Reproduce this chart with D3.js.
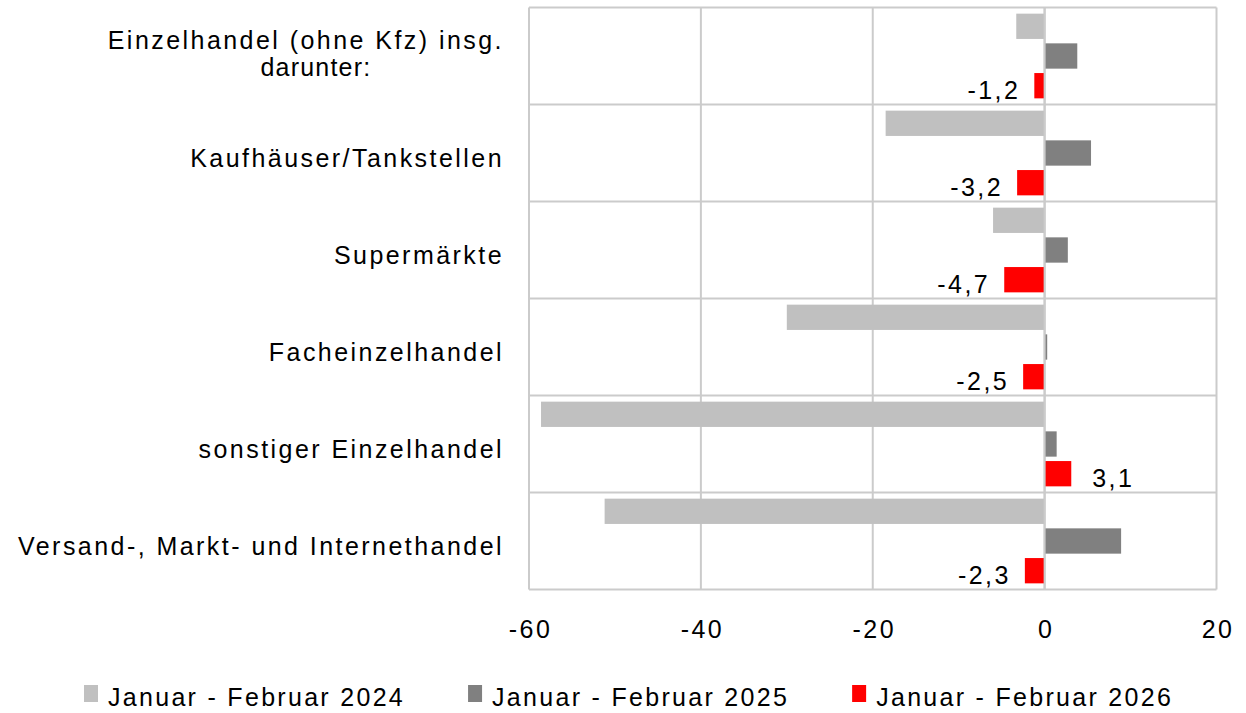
<!DOCTYPE html>
<html>
<head>
<meta charset="utf-8">
<script src="https://cdn.jsdelivr.net/npm/d3@7"></script>
<style>
  html, body { margin: 0; padding: 0; background: #ffffff; }
  svg { display: block; }
  text { font-family: "Liberation Sans", Arial, sans-serif; fill: #000; }
</style>
</head>
<body>
<svg id="chart" width="1246" height="713"></svg>
<script>
// Categories (top to bottom); first entry wraps over two lines
const categories = [
  "Einzelhandel (ohne Kfz) insg.|darunter:",
  "Kaufhäuser/Tankstellen",
  "Supermärkte",
  "Facheinzelhandel",
  "sonstiger Einzelhandel",
  "Versand-, Markt- und Internethandel"
];

const seriesNames = [
  "Januar - Februar 2024",
  "Januar - Februar 2025",
  "Januar - Februar 2026"
];

// Change in percent, one value per category
const values2024 = [-3.3, -18.5, -6.0, -30.0, -58.6, -51.2];
const values2025 = [3.8, 5.4, 2.7, 0.3, 1.4, 8.9];
const values2026 = [-1.2, -3.2, -4.7, -2.5, 3.1, -2.3];

const xTicks = [-60, -40, -20, 0, 20];
const seriesColors = ["#c0c0c0", "#808080", "#ff0000"];

const plot = { left: 529, right: 1216.5, top: 7.5, bottom: 589.5 };
const fontSize = 25;
const letterSpacing = 2.45;
const gridColor = "#cbcbcb";
const labelRight = 504;

const svg = d3.select("#chart");

const x = d3.scaleLinear().domain([-60, 20]).range([plot.left, plot.right]);
const y = d3.scaleBand().domain(d3.range(categories.length)).range([plot.top, plot.bottom]);

const allSeries = [values2024, values2025, values2026];
const barH = 25.3;
const barStep = 29.7;
const blockH = barStep * 2 + barH;
const barTop = (i, s) => y(i) + (y.bandwidth() - blockH) / 2 + s * barStep;

// vertical gridlines
svg.append("g").selectAll("line").data(xTicks).join("line")
  .attr("x1", d => x(d)).attr("x2", d => x(d))
  .attr("y1", plot.top).attr("y2", plot.bottom)
  .attr("stroke", gridColor).attr("stroke-width", 2);

// horizontal category separators
svg.append("g").selectAll("line").data(d3.range(categories.length + 1)).join("line")
  .attr("x1", plot.left).attr("x2", plot.right)
  .attr("y1", i => i < categories.length ? y(i) : plot.bottom)
  .attr("y2", i => i < categories.length ? y(i) : plot.bottom)
  .attr("stroke", gridColor).attr("stroke-width", 2);

// bars
const barsG = svg.append("g");
allSeries.forEach((vals, s) => {
  barsG.selectAll(null).data(vals).join("rect")
    .attr("x", d => x(Math.min(0, d)))
    .attr("width", d => Math.max(1, Math.abs(x(d) - x(0))))
    .attr("y", (d, i) => barTop(i, s))
    .attr("height", barH)
    .attr("fill", seriesColors[s]);
});

// zero line redrawn over the bars
svg.append("line")
  .attr("x1", x(0)).attr("x2", x(0))
  .attr("y1", plot.top).attr("y2", plot.bottom)
  .attr("stroke", gridColor).attr("stroke-width", 2);

// value labels for the 2026 series
const fmt = v => d3.format(".1f")(v).replace(".", ",").replace("−", "-");
svg.append("g").selectAll("text").data(values2026).join("text")
  .attr("x", d => d < 0 ? x(d) - 14 : x(d) + 21)
  .attr("y", (d, i) => barTop(i, 2) + barH + 1)
  .attr("text-anchor", d => d < 0 ? "end" : "start")
  .attr("font-size", fontSize)
  .attr("letter-spacing", letterSpacing)
  .text(d => fmt(d));

// category labels
const catG = svg.append("g");
categories.forEach((c, i) => {
  const lines = c.split("|");
  const cy = y(i) + y.bandwidth() / 2;
  if (lines.length === 1) {
    catG.append("text")
      .attr("x", labelRight).attr("y", cy + 14)
      .attr("text-anchor", "end")
      .attr("font-size", fontSize)
      .attr("letter-spacing", letterSpacing)
      .text(lines[0]);
  } else {
    const first = catG.append("text")
      .attr("x", labelRight).attr("y", cy - 7)
      .attr("text-anchor", "end")
      .attr("font-size", fontSize)
      .attr("letter-spacing", letterSpacing)
      .text(lines[0]);
    const w = first.node().getComputedTextLength();
    catG.append("text")
      .attr("x", labelRight - w / 2 + 10).attr("y", cy + 20)
      .attr("text-anchor", "middle")
      .attr("font-size", fontSize)
      .attr("letter-spacing", 1.2)
      .text(lines[1]);
  }
});

// x axis tick labels
const xAxis = d3.axisBottom(x).tickValues(xTicks).tickSize(0).tickPadding(0)
  .tickFormat(d => String(d).replace("−", "-"));
const axG = svg.append("g").attr("transform", `translate(0, ${plot.bottom})`).call(xAxis);
axG.select(".domain").remove();
axG.selectAll("text")
  .attr("dy", null)
  .attr("dx", 1)
  .attr("y", 48.5)
  .attr("font-size", fontSize)
  .attr("letter-spacing", letterSpacing)
  .style("font-family", '"Liberation Sans", Arial, sans-serif')
  .attr("fill", "#000");

// legend
const legend = svg.append("g");
let lx = 84;
seriesNames.forEach((name, s) => {
  legend.append("rect")
    .attr("x", lx).attr("y", 685).attr("width", 14).attr("height", 17)
    .attr("fill", seriesColors[s]);
  const t = legend.append("text")
    .attr("x", lx + 24).attr("y", 706)
    .attr("font-size", fontSize)
    .attr("letter-spacing", 2.3)
    .text(name);
  lx += 24 + t.node().getComputedTextLength() + 63;
});
</script>
</body>
</html>
